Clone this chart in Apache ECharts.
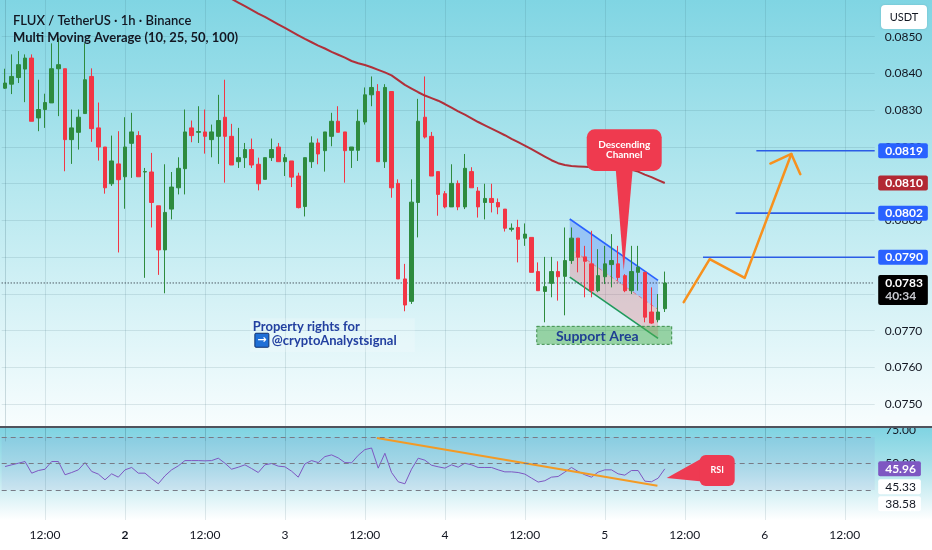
<!DOCTYPE html>
<html>
<head>
<meta charset="utf-8">
<title>FLUX / TetherUS 1h</title>
<script src="https://cdn.jsdelivr.net/npm/echarts@6/dist/echarts.min.js"></script>
<style>
html,body{margin:0;padding:0;background:#ffffff;}
#chart{width:932px;height:550px;}
</style>
</head>
<body>
<div id="chart"></div>
<script>
// ---------------- time axis ----------------
const startDay = 1, startHour = 6, slotCount = 131;   // hourly slots, first = day 1 06:00
const firstTick = 6, tickEvery = 12;                    // labels every 12h (12:00 / day number)

// ---------------- candles (USDT) ----------------
const open = [0.08360,0.08371,0.08389,0.08412,0.08442,0.08279,0.08302,0.08320,0.08413,0.08413,
0.08220,0.08240,0.08291,0.08392,0.08252,0.08200,0.08100,0.08154,0.08119,0.08210,
0.08231,0.08132,0.08132,0.08040,0.07920,0.08031,0.08089,0.08141,0.08252,0.08240,
0.08241,0.08220,0.08229,0.08281,0.08229,0.08160,0.08171,0.08193,0.08153,0.08112,
0.08171,0.08200,0.08160,0.08162,0.08121,0.08038,0.08160,0.08211,0.08190,0.08229,
0.08270,0.08241,0.08191,0.08191,0.08268,0.08342,0.08351,0.08160,0.08351,0.08101,
0.07841,0.07780,0.08049,0.08281,0.08229,0.08133,0.08073,0.08037,0.08101,0.08037,
0.08133,0.08080,0.08049,0.08060,0.08049,0.08031,0.07976,0.07981,0.07952,0.07954,
0.07861,0.07807,0.07829,0.07861,0.07848,0.07891,0.07952,0.07901,0.07882,0.07809,
0.07847,0.07880,0.07882,0.07850,0.07809,0.07859,0.07859,0.07751,0.07730,0.07760];
const close = [0.08374,0.08392,0.08424,0.08442,0.08270,0.08302,0.08321,0.08413,0.08424,0.08220,
0.08252,0.08281,0.08383,0.08250,0.08200,0.08089,0.08162,0.08111,0.08200,0.08241,
0.08119,0.08133,0.08049,0.07920,0.08022,0.08091,0.08142,0.08241,0.08231,0.08242,
0.08229,0.08241,0.08272,0.08229,0.08151,0.08171,0.08193,0.08151,0.08100,0.08171,
0.08193,0.08160,0.08171,0.08118,0.08035,0.08171,0.08211,0.08181,0.08241,0.08270,
0.08240,0.08190,0.08200,0.08270,0.08342,0.08362,0.08160,0.08362,0.08089,0.07841,
0.07770,0.08050,0.08270,0.08227,0.08121,0.08071,0.08037,0.08101,0.08037,0.08142,
0.08089,0.08037,0.08060,0.08049,0.08037,0.07979,0.07979,0.07949,0.07963,0.07859,
0.07809,0.07820,0.07861,0.07847,0.07891,0.07952,0.07900,0.07889,0.07809,0.07850,
0.07882,0.07891,0.07845,0.07809,0.07861,0.07873,0.07737,0.07721,0.07751,0.07830];
const low = [0.08358,0.08344,0.08374,0.08322,0.08270,0.08243,0.08252,0.08320,0.08284,0.08134,
0.08154,0.08193,0.08291,0.08214,0.08163,0.08073,0.08094,0.07913,0.08032,0.08116,
0.08119,0.07844,0.07981,0.07852,0.07802,0.08003,0.08071,0.08071,0.08213,0.08211,
0.08182,0.08172,0.08154,0.08103,0.08151,0.08143,0.08143,0.08143,0.08082,0.08112,
0.08162,0.08160,0.08121,0.08091,0.08033,0.08011,0.08143,0.08153,0.08133,0.08202,
0.08240,0.08103,0.08143,0.08162,0.08261,0.08311,0.08160,0.08143,0.08062,0.07841,
0.07753,0.07773,0.07954,0.08223,0.08121,0.08013,0.08033,0.08037,0.08028,0.08031,
0.08089,0.08008,0.08003,0.08022,0.08017,0.07970,0.07970,0.07886,0.07931,0.07859,
0.07809,0.07723,0.07791,0.07782,0.07742,0.07882,0.07859,0.07791,0.07791,0.07805,
0.07827,0.07818,0.07836,0.07805,0.07800,0.07809,0.07723,0.07719,0.07723,0.07751];
const high = [0.08413,0.08452,0.08461,0.08452,0.08452,0.08383,0.08345,0.08482,0.08496,0.08413,
0.08302,0.08302,0.08482,0.08414,0.08321,0.08200,0.08231,0.08243,0.08281,0.08293,
0.08243,0.08143,0.08184,0.08040,0.08153,0.08132,0.08172,0.08302,0.08272,0.08311,
0.08302,0.08261,0.08342,0.08383,0.08263,0.08252,0.08211,0.08223,0.08171,0.08171,
0.08223,0.08211,0.08181,0.08162,0.08130,0.08171,0.08229,0.08223,0.08241,0.08293,
0.08311,0.08241,0.08200,0.08302,0.08362,0.08392,0.08371,0.08371,0.08351,0.08112,
0.07882,0.08112,0.08331,0.08392,0.08241,0.08133,0.08080,0.08153,0.08109,0.08181,
0.08145,0.08091,0.08100,0.08100,0.08060,0.08031,0.07992,0.08002,0.07992,0.07954,
0.07886,0.07901,0.07901,0.07889,0.07981,0.07981,0.07952,0.07931,0.07972,0.07922,
0.07931,0.07963,0.07931,0.07854,0.07931,0.07931,0.07859,0.07818,0.07800,0.07861];

// ---------------- moving average (visible MA, 100) ----------------
const ma100 = [null,null,null,null,null,null,null,null,null,null,
null,null,null,null,null,null,null,null,null,null,
null,null,null,null,null,null,null,null,null,null,
0.08642,0.08633,0.08623,0.08613,0.08603,0.08593,0.08583,0.08573,0.08563,0.08554,
0.08544,0.08534,0.08524,0.08514,0.08504,0.08494,0.08485,0.08476,0.08468,0.08459,
0.08451,0.08443,0.08434,0.08428,0.08423,0.08417,0.08410,0.08403,0.08395,0.08382,
0.08369,0.08359,0.08349,0.08340,0.08333,0.08326,0.08317,0.08307,0.08297,0.08288,
0.08278,0.08268,0.08259,0.08250,0.08241,0.08232,0.08222,0.08213,0.08204,0.08194,
0.08184,0.08174,0.08164,0.08156,0.08151,0.08148,0.08147,0.08146,0.08145,0.08145,
0.08145,0.08145,0.08145,0.08142,0.08138,0.08133,0.08125,0.08118,0.08110,0.08102];

// ---------------- RSI (14, close) ----------------
const rsi = [47.7,49,50.2,51.5,42.7,44.7,45.7,51.5,51.5,41.5,
43.2,45.2,50.7,44,42,37.7,42.2,39.7,45.2,47,
42.7,42.7,38.5,34.7,40.7,45.2,48.2,52.2,52.2,52.2,
52,52.2,54,50.2,45.7,47.2,49,46.2,43.2,49,
50,48,47.5,44.2,39.7,49.7,52.2,50.7,55.2,56.5,
54.2,50.7,50.5,56.2,60.5,61.7,46.5,57.7,43.2,36.2,
34.7,45.7,54,52.5,48.7,47.5,46.5,49,47.2,50.2,
49,47,47,47,45.2,43.7,43.7,43.2,42,39,
36,37,39.7,40.2,43.5,47,44,41.5,39.7,43.5,
45.2,45.2,42.2,41.2,44.7,44.7,36.7,36.2,38.9,45.96];
const rsiBands = [70, 50, 30];
const rsiScaleLabels = [75, 50];
const rsiSideValues = [45.33, 38.58];

// ---------------- price levels & drawings (x = hour slot, y = price) ----------------
const levelPrices = [0.0819, 0.0802, 0.0790];
const levelStarts = [112.74, 109.64, 104.74];
const currentPrice = 0.0783;
const countdown = '40:34';
const projectionPath = [[101.84,0.07778],[105.74,0.07895],[110.99,0.07844],[117.99,0.08181]];
const projectionHead = [[114.84,0.08155],[117.99,0.08181],[119.34,0.08126]];
const channelTop = [[84.74,0.08004],[97.99,0.07837]];
const channelBottom = [[84.74,0.07846],[97.99,0.07679]];
const supportBox = [[79.79,0.07712],[100.04,0.07663]];
const channelNoteBox = [[87.29,0.08248],[98.54,0.08135]];
const channelNotePointer = [[91.64,0.08140],[94.19,0.08140],[92.84,0.07864]];
const watermarkBox = [[36.74,0.07734],[61.49,0.07642]];
const rsiTrend = [[55.8,69.2],[97.9,33.2]];
const rsiNoteBox = [[104.24,56.4],[109.49,33.0]];
const rsiNotePointer = [[105,55.1],[105,36.3],[99.29,39.06]];

// ---------------- derived ----------------
const categories = [];
for (let k = 0; k < slotCount; k++) {
  const t = startHour + k, h = t % 24, d = startDay + Math.floor(t / 24);
  categories.push(h === 0 ? String(d) : (h < 10 ? '0' + h : String(h)) + ':00');
}
const tickIdx = [];
for (let k = firstTick; k < slotCount; k += tickEvery) tickIdx.push(k);
const candles = open.map((o, i) => [o, close[i], low[i], high[i]]);
const XMIN = -0.5, XMAX = slotCount - 0.5;

const TXT = '#131722';
const FONT = 'Lato, "Noto Sans", sans-serif';
const GRID_LINE = 'rgba(38,86,100,0.13)';
const UP = '#2e8b3e', DOWN = '#f23645';
const CLEAR = 'rgba(0,0,0,0)';

function lg(stops){ return {type:'linear', x:0, y:0, x2:0, y2:1, colorStops: stops.map(s => ({offset:s[0], color:s[1]}))}; }

function renderVGrid(params, api){
  const x = Math.round(api.coord([api.value(0), api.value(1)])[0]) + 0.5;
  const cs = params.coordSys;
  return {type:'line', silent:true, shape:{x1:x, y1:cs.y, x2:x, y2:cs.y + cs.height}, style:{stroke:GRID_LINE, lineWidth:1}};
}
function renderChannel(params, api){
  const tl = api.coord(channelTop[0]), tr = api.coord(channelTop[1]);
  const bl = api.coord(channelBottom[0]), br = api.coord(channelBottom[1]);
  const ml = [(tl[0]+bl[0])/2, (tl[1]+bl[1])/2], mr = [(tr[0]+br[0])/2, (tr[1]+br[1])/2];
  return {type:'group', children:[
    {type:'polygon', shape:{points:[tl,tr,mr,ml]}, style:{fill:'rgba(41,98,255,0.28)'}},
    {type:'polygon', shape:{points:[ml,mr,br,bl]}, style:{fill:'rgba(242,54,69,0.22)'}},
    {type:'line', shape:{x1:ml[0],y1:ml[1],x2:mr[0],y2:mr[1]}, style:{stroke:'rgba(242,54,69,0.55)', lineWidth:1, lineDash:[4,3]}},
    {type:'line', shape:{x1:tl[0],y1:tl[1],x2:tr[0],y2:tr[1]}, style:{stroke:'#2962ff', lineWidth:1.6}},
    {type:'line', shape:{x1:bl[0],y1:bl[1],x2:br[0],y2:br[1]}, style:{stroke:'#1f9a5c', lineWidth:1.6}}
  ]};
}
function renderSupport(params, api){
  const a = api.coord(supportBox[0]), b = api.coord(supportBox[1]);
  return {type:'group', children:[
    {type:'rect', shape:{x:a[0], y:a[1], width:b[0]-a[0], height:b[1]-a[1]}, style:{fill:'rgba(76,175,80,0.5)', stroke:'#3c8d4a', lineWidth:1, lineDash:[3,2]}},
    {type:'text', style:{text:'Support Area', x:(a[0]+b[0])/2 - 7, y:(a[1]+b[1])/2 + 1, align:'center', verticalAlign:'middle', fill:'#1f3f93', fontSize:14, fontWeight:'bold', fontFamily:FONT}}
  ]};
}
function renderWatermark(params, api){
  const a = api.coord(watermarkBox[0]), b = api.coord(watermarkBox[1]);
  return {type:'group', children:[
    {type:'rect', shape:{x:a[0], y:a[1], width:b[0]-a[0], height:b[1]-a[1]}, style:{fill:'rgba(255,255,255,0.2)'}},
    {type:'text', style:{text:'Property rights for', x:a[0]+3, y:a[1]+9, verticalAlign:'middle', fill:'#2340a0', fontSize:13, fontWeight:'bold', fontFamily:FONT}},
    {type:'rect', shape:{x:a[0]+5, y:a[1]+15, width:14, height:14, r:1}, style:{fill:'#1f6fd6', stroke:'#0e2f6e', lineWidth:1}},
    {type:'text', style:{text:'→', x:a[0]+12, y:a[1]+22, align:'center', verticalAlign:'middle', fill:'#ffffff', fontSize:11, fontWeight:'bold', fontFamily:'"DejaVu Sans", sans-serif'}},
    {type:'text', style:{text:'@cryptoAnalystsignal', x:a[0]+22, y:a[1]+23, verticalAlign:'middle', fill:'#2340a0', fontSize:13, fontWeight:'bold', fontFamily:FONT}}
  ]};
}
function noteRenderer(box, pointer, text, fontSize, lineHeight, radius, color){
  return function(params, api){
    const p0 = api.coord(box[0]), p1 = api.coord(box[1]);
    const pts = pointer.map(p => api.coord(p));
    return {type:'group', children:[
      {type:'polygon', shape:{points:pts}, style:{fill:color}},
      {type:'rect', shape:{x:p0[0], y:p0[1], width:p1[0]-p0[0], height:p1[1]-p0[1], r:radius}, style:{fill:color}},
      {type:'text', style:{text:text, x:(p0[0]+p1[0])/2, y:(p0[1]+p1[1])/2, align:'center', verticalAlign:'middle', fill:'#ffffff', fontSize:fontSize, fontWeight:'bold', lineHeight:lineHeight, fontFamily:FONT}}
    ]};
  };
}

const tagLabel = {show:true, position:'right', distance:3, color:'#ffffff', fontSize:12, fontWeight:'bold', fontFamily:FONT,
  lineHeight:13, padding:[1,5,1,7], borderRadius:2, opacity:1};

const priceTagData = levelPrices.map(p => ({value:[XMAX, p], label:{backgroundColor:'#2962ff'}}))
  .concat([
    {value:[XMAX, ma100[ma100.length-1]], label:{backgroundColor:'#b22833'}},
    {value:[XMAX, currentPrice], label:{backgroundColor:'#000000', offset:[0,7], padding:[2,5,2,7],
      formatter: p => '{a|' + p.value[1].toFixed(4) + '}\n{b|' + countdown + '}',
      rich:{a:{color:'#ffffff', fontSize:12, fontWeight:'bold', lineHeight:13, fontFamily:FONT},
            b:{color:'#c9cbd1', fontSize:12, lineHeight:13, fontFamily:FONT}}}}
  ]);

const rsiTagData = rsiScaleLabels.map(v => ({value:[XMAX, v], label:{color:TXT, fontWeight:'normal'}}))
  .concat([
    {value:[XMAX, rsi[rsi.length-1]], label:{backgroundColor:'#7e57c2'}},
    {value:[XMAX, rsiSideValues[0]], label:{backgroundColor:'#ffffff', color:TXT, fontWeight:'normal', offset:[0,17]}},
    {value:[XMAX, rsiSideValues[1]], label:{backgroundColor:'#ffffff', color:TXT, fontWeight:'normal', offset:[0,25]}}
  ]);

const chart = echarts.init(document.getElementById('chart'));
chart.setOption({
  animation: false,
  textStyle: {fontFamily: FONT},
  title: {
    left: 8, top: 7,
    text: '{a|FLUX / TetherUS · 1h · Binance}\n{b|Multi Moving Average (10, 25, 50, 100)}',
    textStyle: {rich: {
      a: {fontSize:13, fontWeight:600, color:TXT, lineHeight:17, fontFamily:FONT},
      b: {fontSize:13, color:TXT, lineHeight:17, fontFamily:FONT}
    }}
  },
  graphic: [
    {type:'rect', z:-10, silent:true, shape:{x:0, y:0, width:932, height:427}, style:{fill: lg([[0,'#80d5e3'],[0.45,'#b7e8ef'],[1,'#f8fdfe']])}},
    {type:'rect', z:-10, silent:true, shape:{x:0, y:427, width:932, height:93}, style:{fill: lg([[0,'#7ed3e2'],[0.4,'#a9e1ea'],[1,'#ffffff']])}},
    {type:'rect', z:-10, silent:true, shape:{x:0, y:520, width:932, height:30}, style:{fill:'#ffffff'}},
    {type:'rect', z:50, silent:true, shape:{x:876, y:416, width:56, height:11}, style:{fill:'#f6fcfd'}},
    {type:'line', z:51, silent:true, shape:{x1:0, y1:427, x2:932, y2:427}, style:{stroke:'#50535d', lineWidth:2}},
    {type:'rect', z:60, silent:true, shape:{x:881, y:5, width:46, height:24, r:4}, style:{fill:'#ffffff', shadowBlur:2, shadowColor:'rgba(0,0,0,0.15)'}},
    {type:'text', z:61, silent:true, style:{text:'USDT', x:904, y:17, align:'center', verticalAlign:'middle', fill:TXT, fontSize:11, fontFamily:FONT}}
  ],
  grid: [
    {left:1.7, right:57.3, top:-2, height:443},
    {left:1.7, right:57.3, top:428, height:92}
  ],
  xAxis: [
    {type:'category', gridIndex:0, data:categories, boundaryGap:true, show:false},
    {type:'value', gridIndex:0, min:XMIN, max:XMAX, show:false},
    {type:'category', gridIndex:1, data:categories, boundaryGap:true,
     axisLine:{show:false}, axisTick:{show:false}, splitLine:{show:false},
     axisLabel:{interval:(i) => (i - firstTick) % tickEvery === 0, color:TXT, fontSize:12, margin:9, fontFamily:FONT, hideOverlap:false,
       formatter:(v) => v === '2' ? '{b|2}' : v, rich:{b:{fontWeight:'bold', fontSize:12, color:TXT, fontFamily:FONT}}}},
    {type:'value', gridIndex:1, min:XMIN, max:XMAX, show:false}
  ],
  yAxis: [
    {type:'value', gridIndex:0, position:'right', min:0.074, max:0.086, interval:0.001,
     axisLine:{show:true, lineStyle:{color:'rgba(38,86,100,0.2)'}}, axisTick:{show:false},
     axisLabel:{color:TXT, fontSize:12, margin:10, fontFamily:FONT, showMinLabel:false, showMaxLabel:false, formatter:(v) => v.toFixed(4)},
     splitLine:{show:true, showMinLine:false, showMaxLine:false, lineStyle:{color:GRID_LINE}}},
    {type:'value', gridIndex:1, position:'right', min:7.36, max:76.79, show:false, splitLine:{show:false}}
  ],
  series: [
    {type:'custom', name:'vgrid', xAxisIndex:1, yAxisIndex:0, z:1, silent:true, data:tickIdx.map(i => [i, 0.08]), renderItem:renderVGrid},
    {type:'custom', name:'watermark', xAxisIndex:1, yAxisIndex:0, z:1, silent:true, data:[watermarkBox[0]], renderItem:renderWatermark},
    {type:'custom', name:'channel', xAxisIndex:1, yAxisIndex:0, z:2, silent:true, data:[channelTop[0]], renderItem:renderChannel},
    {type:'custom', name:'support', xAxisIndex:1, yAxisIndex:0, z:2, silent:true, data:[supportBox[0]], renderItem:renderSupport},
    {type:'line', name:'currentPrice', xAxisIndex:1, yAxisIndex:0, z:2, silent:true, symbol:'none',
     data:[[XMIN, currentPrice], [XMAX, currentPrice]], lineStyle:{type:[1,2], color:'#131722', width:1}},
    {type:'candlestick', name:'FLUXUSDT', xAxisIndex:0, yAxisIndex:0, z:3, barWidth:4, data:candles,
     itemStyle:{color:UP, color0:DOWN, borderColor:UP, borderColor0:DOWN, borderColorDoji:UP, borderWidth:1}},
    {type:'line', name:'MA', xAxisIndex:0, yAxisIndex:0, z:4, data:ma100, symbol:'none', silent:true,
     lineStyle:{color:'#b0303a', width:2}},
    ...levelPrices.map((p, k) => ({type:'line', name:'level' + k, xAxisIndex:1, yAxisIndex:0, z:4, silent:true, symbol:'none',
      data:[[levelStarts[k], p], [XMAX, p]], lineStyle:{color:'#2b5ce6', width:1.6}})),
    {type:'line', name:'projection', xAxisIndex:1, yAxisIndex:0, z:5, silent:true, symbol:'none', data:projectionPath,
     lineStyle:{color:'#f7911e', width:2.5, cap:'round', join:'round'}},
    {type:'line', name:'projectionHead', xAxisIndex:1, yAxisIndex:0, z:5, silent:true, symbol:'none', data:projectionHead,
     lineStyle:{color:'#f7911e', width:2.5, cap:'round', join:'round'}},
    {type:'custom', name:'channelNote', xAxisIndex:1, yAxisIndex:0, z:6, silent:true, data:[channelNoteBox[0]],
     renderItem:noteRenderer(channelNoteBox, channelNotePointer, 'Descending\nChannel', 10, 10, 8, '#ef3a4f')},
    {type:'scatter', name:'priceTags', xAxisIndex:1, yAxisIndex:0, z:10, clip:false, silent:true, symbolSize:1,
     itemStyle:{color:CLEAR, opacity:1}, data:priceTagData, label:Object.assign({}, tagLabel, {formatter:(p) => p.value[1].toFixed(4)})},

    {type:'custom', name:'vgridRsi', xAxisIndex:3, yAxisIndex:1, z:1, silent:true, data:tickIdx.map(i => [i, 50]), renderItem:renderVGrid},
    {type:'line', name:'RSI', xAxisIndex:2, yAxisIndex:1, z:3, data:rsi, symbol:'none', silent:true,
     lineStyle:{color:'#7e57c2', width:1},
     markLine:{silent:true, symbol:['none','none'], label:{show:false}, data:rsiBands.map(v => ({yAxis:v})),
       lineStyle:{type:[5,4], color:'#787b86', width:1}},
     markArea:{silent:true, data:[[{yAxis:rsiBands[0]}, {yAxis:rsiBands[2]}]], itemStyle:{color:'rgba(126,87,194,0.07)'}}},
    {type:'line', name:'rsiTrend', xAxisIndex:3, yAxisIndex:1, z:4, silent:true, symbol:'none', data:rsiTrend,
     lineStyle:{color:'#f39a25', width:2}},
    {type:'custom', name:'rsiNote', xAxisIndex:3, yAxisIndex:1, z:6, silent:true, data:[rsiNoteBox[0]],
     renderItem:noteRenderer(rsiNoteBox, rsiNotePointer, 'RSI', 9, 10, 6, '#ee3a52')},
    {type:'scatter', name:'rsiTags', xAxisIndex:3, yAxisIndex:1, z:10, clip:false, silent:true, symbolSize:1,
     itemStyle:{color:CLEAR, opacity:1}, data:rsiTagData, label:Object.assign({}, tagLabel, {formatter:(p) => p.value[1].toFixed(2)})}
  ]
});
</script>
</body>
</html>
